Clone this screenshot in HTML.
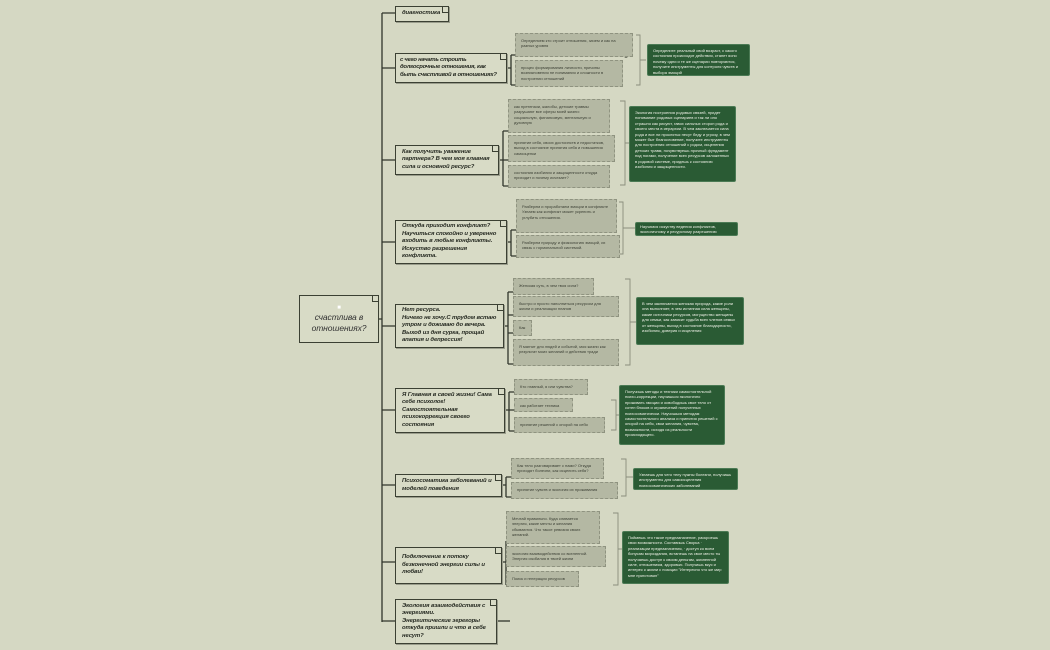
<!DOCTYPE html>
<html><head><meta charset="utf-8">
<style>
html,body{margin:0;padding:0}
body{width:1050px;height:650px;background:#d5d8c3;position:relative;overflow:hidden;font-family:"Liberation Sans","DejaVu Sans",sans-serif}
.q{position:absolute;box-sizing:border-box;border:1.3px solid #3b4033;background:#d8dbc6;box-shadow:1px 1px 0 #9a9d8c;font-weight:bold;font-style:italic;font-size:5.9px;line-height:7.6px;color:#262a22;padding:1px 6px 1px 6px;overflow:hidden;letter-spacing:-0.1px;display:flex;align-items:center}
.q:after{content:"";position:absolute;right:-1px;top:-1px;width:6px;height:6px;background:linear-gradient(45deg,#d8dbc6 50%,#d5d8c3 50%);border-left:1px solid #3b4033;border-bottom:1px solid #3b4033}
.g{position:absolute;box-sizing:border-box;border:1px dashed #8f9380;background:#b4b8a3;font-size:4px;line-height:5.3px;color:#3b3f34;padding:4px 5px;overflow:hidden}
.d{position:absolute;box-sizing:border-box;background:#2a5b34;border:1px solid #4b7a54;border-radius:2px;font-size:4px;line-height:5.4px;color:#eef1e6;padding:3px 5px;overflow:hidden}
</style></head><body>
<svg width="1050" height="650" style="position:absolute;left:0;top:0" fill="none" stroke="#30352b">
<g stroke-width="1.3">
<path d="M382 13V622M382 13H395M382 68H395M382 160H395M382 242H395M382 326H395M382 410H395M382 485H395M382 562H395M382 621H395M378 319H382"/>
<path d="M507 68H511M511 55V85M511 55H625M511 85H620"/>
<path d="M499 160H503M503 131V186M503 131H607M503 160H612M503 186H604"/>
<path d="M507 242H511M511 230V256M511 230H614M511 256H616"/>
<path d="M504 326H508M508 292V364M508 292H590M508 315H616M508 333H530M508 364H616"/>
<path d="M505 410H509M509 392V431M509 392H585M509 410H570M509 431H602"/>
<path d="M502 485H506M506 477V497M506 477H600M506 497H614"/>
<path d="M502 562H506M506 541V585M506 541H597M506 565H603M506 585H576"/>
<path d="M497 621H510"/>
</g>
<circle cx="626" cy="55" r="2.2" fill="#c8cbb6" stroke-width="0.8"/>
<g stroke="#8a8e7c" stroke-width="0.9">
<path d="M636 35H640V85H636M640 60H646"/>
<path d="M620 101H625V185H620M625 143H629"/>
<path d="M619 202H623V254H619M623 228H635"/>
<path d="M625 279H630V365H625M630 322H636"/>
<path d="M611 400H616V430H611M616 415H619"/>
<path d="M621 459H626V496H621M626 477H633"/>
<path d="M613 513H618V585H613M618 549H622"/>
</g>
</svg>

<div class="q" style="left:299px;top:295px;width:80px;height:48px;font-weight:normal;font-size:8.5px;line-height:11px;padding:4px;color:#333;box-shadow:none;justify-content:center;text-align:center"><div><span style="display:block;color:#fff;font-size:6px;line-height:7px">■</span>счастлива в<br>отношениях?</div></div>

<div class="q" style="left:395px;top:6px;width:54px;height:16px">диагностика</div>
<div class="q" style="left:395px;top:53px;width:112px;height:30px;letter-spacing:-0.25px;padding:1px 4px">с чего начать строить долгосрочные отношения, как быть счастливой в отношениях?</div>
<div class="q" style="left:395px;top:145px;width:104px;height:30px">Как получить уважение партнера? В чем моя главная сила и основной ресурс?</div>
<div class="q" style="left:395px;top:220px;width:112px;height:44px">Откуда приходит конфликт? Научиться спокойно и уверенно входить в любые конфликты. Искуство разрешения конфликта.</div>
<div class="q" style="left:395px;top:304px;width:109px;height:44px"><div>Нет ресурса.<br>Ничего не хочу.С трудом встаю утром и доживаю до вечера. Выход из дня сурка, прощай апатия и депрессия!</div></div>
<div class="q" style="left:395px;top:388px;width:110px;height:45px">Я Главная в своей жизни! Сама себе психолог! Самостоятельная психокоррекция своего состояния</div>
<div class="q" style="left:395px;top:474px;width:107px;height:23px">Психосоматика заболеваний и моделей поведения</div>
<div class="q" style="left:395px;top:547px;width:107px;height:37px">Подключение к потоку безконечной энергии силы и любви!</div>
<div class="q" style="left:395px;top:599px;width:102px;height:45px"><div>Экология взаимодействия с энергиями.<br>Энергитические эгрегоры откуда пришли и что в себе несут?</div></div>

<div class="g" style="left:515px;top:33px;width:118px;height:24px">Определяем кто строит отношения, зачем и как на разных уровня</div>
<div class="g" style="left:515px;top:60px;width:108px;height:27px">процес формирования личности, причины возникновения не понимания и сложности в построении отношений</div>
<div class="g" style="left:508px;top:99px;width:102px;height:34px">как претензии, жалобы, детские травмы разрушают все сферы моей жизни: социальную, финансовую, ментальную и духовную</div>
<div class="g" style="left:508px;top:135px;width:107px;height:27px">принятие себя, своих достоинств и недостатков, выход в состояние принятия себя и повышения самооценки</div>
<div class="g" style="left:508px;top:165px;width:102px;height:23px">состояния изобилия и защищенности откуда приходит и почему исчезает?</div>
<div class="g" style="left:516px;top:199px;width:101px;height:34px">Разберем и проработаем эмоции в конфликте<br>Узнаем как конфликт может укрепить и углубить отношения.</div>
<div class="g" style="left:516px;top:235px;width:104px;height:23px">Разберем природу и физиологию эмоций, их связь с гормональной системой.</div>
<div class="g" style="left:513px;top:278px;width:81px;height:17px;white-space:nowrap">Женская суть, в чем твоя сила?</div>
<div class="g" style="left:513px;top:296px;width:106px;height:21px">быстро и просто наполниться ресурсом для жизни и реализации планов</div>
<div class="g" style="left:513px;top:320px;width:19px;height:16px">Как</div>
<div class="g" style="left:513px;top:339px;width:106px;height:27px">Я магнит для людей и событий, моя жизни как результат моих желаний и действия тради</div>
<div class="g" style="left:514px;top:379px;width:74px;height:16px;white-space:nowrap">Кто главный, я или чувства?</div>
<div class="g" style="left:514px;top:398px;width:59px;height:14px;white-space:nowrap">как работает техника</div>
<div class="g" style="left:514px;top:417px;width:91px;height:16px;white-space:nowrap">принятие решений с опорой на себя</div>
<div class="g" style="left:511px;top:458px;width:93px;height:21px">Как тело разговаривает с нами? Откуда приходят болезни, как исцелить себя?</div>
<div class="g" style="left:511px;top:482px;width:107px;height:17px;white-space:nowrap">принятие чувств и экология их проживания</div>
<div class="g" style="left:506px;top:511px;width:94px;height:33px">Мечтай правильно. Куда сливается энергия, какие мечты и желания сбываются. Что такое ревизия своих желаний.</div>
<div class="g" style="left:506px;top:546px;width:100px;height:21px">экология взаимодействия со вселенной. Энергия изобилия в твоей жизни</div>
<div class="g" style="left:506px;top:571px;width:73px;height:16px;white-space:nowrap">Поиск и генерация ресурсов</div>

<div class="d" style="left:647px;top:44px;width:103px;height:32px">Определите реальный свой возраст, с какого состояния происходят действия, станет ясно почему одни и те же сценарии повторяются, получите инструменты для контроля чувств и выбора эмоций</div>
<div class="d" style="left:629px;top:106px;width:107px;height:76px">Экология построения родовых связей, придет понимание родовых сценариев и так ли оно страшно как рисуют, гавох сильных сторон рода и своего места в иерархии. В чем заключается сила рода и все ли проклятья несут беду и угрозу, в чем может быт благословение, получите инструменты для построения отношений с родом, исцеления детских травм, почувствуешь прочный фундамент под ногами, получение всех ресурсов заложенных в родовой системе, придешь к состоянию изобилия и защищенности.</div>
<div class="d" style="left:635px;top:222px;width:103px;height:14px;padding:1px 4px">Научимся искуству ведения конфликтов, экологичному и ресурсному разрешению</div>
<div class="d" style="left:636px;top:297px;width:108px;height:48px">В чем заключается женская природа, какие роли она выполняет, в чем истинная сила женщины, какие источники ресурсов, могущество женщины для семьи, как зависит судьба всех членов семьи от женщины, выход в состояние благодарности, изобилия, доверия и исцеления</div>
<div class="d" style="left:619px;top:385px;width:106px;height:60px">Получишь методы и техники самостоятельной психо-коррекции, научишься экологично проживать эмоции и освободишь свое тело от сотен блоков и ограничений полученных психосоматически. Научишься методам самостоятельного анализа и принятия решений с опорой на себя, свои желания, чувства, возможности, исходя из реальности происходящего.</div>
<div class="d" style="left:633px;top:468px;width:105px;height:22px">Узнаешь для чего телу нужны болезни, получишь инструменты для самоисцеления психосоматических заболеваний</div>
<div class="d" style="left:622px;top:531px;width:107px;height:53px">Поймешь что такое предназначение, раскроешь свои возможности. Составишь Сворка · реализации предназначения, · доступ ко всем бонусам мироздания, встанешь на свое место ты получаешь доступ к своим деньгам, жизненной силе, отношениям, здоровью. Получишь вкус и интерес к жизни с позиции "Интересно что же мир мне приготовил"</div>
</body></html>
